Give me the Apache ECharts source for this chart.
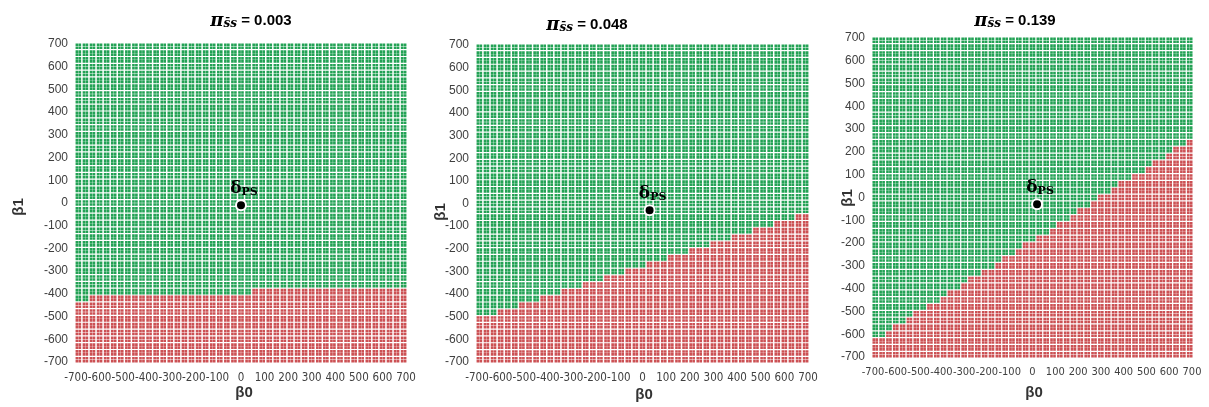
<!DOCTYPE html>
<html>
<head>
<meta charset="utf-8">
<script src="https://cdn.jsdelivr.net/npm/echarts@6/dist/echarts.min.js"></script>
<style>
html,body{margin:0;padding:0;background:#fff;}
#c{width:1209px;height:407px;}
</style>
</head>
<body>
<div id="c"></div>
<script>
// ---- data ----
const titles = ['0.003', '0.048', '0.139'];
const tickValues = [-700,-600,-500,-400,-300,-200,-100,0,100,200,300,400,500,600,700];
// grid of evaluated (beta0, beta1) points
const latticeB0 = [-690,-660,-630,-600,-570,-540,-510,-480,-450,-420,-390,-360,-330,-300,-270,-240,-210,-180,-150,-120,-90,-60,-30,0,30,60,90,120,150,180,210,240,270,300,330,360,390,420,450,480,510,540,570,600,630,660,690];
const latticeB1 = [-690,-660,-630,-600,-570,-540,-510,-480,-450,-420,-390,-360,-330,-300,-270,-240,-210,-180,-150,-120,-90,-60,-30,0,30,60,90,120,150,180,210,240,270,300,330,360,390,420,450,480,510,540,570,600,630,660,690];
// boundary between green (above) and red (below): [beta0, beta1] breakpoints
const boundary1 = [[-700,-425],[-646,-425],[-644,-400],[44,-400],[46,-375],[700,-375]];
const boundary2 = [[-700,-510],[0,-275],[700,-45]];
const boundary3 = [[-700,-625],[0,-190],[700,262]];
// delta_PS point of each panel
const delta1 = [0,-10];
const delta2 = [30,-30];
const delta3 = [20,-30];

const boundaries = [boundary1, boundary2, boundary3];
const deltas = [delta1, delta2, delta3];

function thr(bp, x){
  for (let i=0;i<bp.length-1;i++){
    const a=bp[i], b=bp[i+1];
    if (x>=a[0] && x<=b[0]) return a[1] + (b[1]-a[1])*(x-a[0])/(b[0]-a[0]);
  }
  return bp[bp.length-1][1];
}

const grids = [
  {left:76, top:44, width:330, height:318},
  {left:477, top:45, width:331, height:317},
  {left:873, top:38, width:319, height:319}
];
const titlePos = [{x:246,y:7},{x:582,y:11},{x:1010,y:7}];
const yNamePos = [[19,207],[441,212],[848,198]];
const xNamePos = [[244,393],[644,395],[1034,393]];
const xLabelSize = [11.5, 11.5, 11];

const GREEN = '#23a255';
const RED = '#cc5154';
const sym = 'path://M0,0H47V47H0Z M53,0H100V47H53Z M0,53H47V100H0Z M53,53H100V100H53Z';

const series = [];
const xAxis = [], yAxis = [], title = [], graphic = [];
for (let p=0;p<3;p++){
  const g=[], r=[];
  latticeB0.forEach(b0=>{
    const t = thr(boundaries[p], b0);
    latticeB1.forEach(b1=>{ (b1>t?g:r).push([b0,b1]); });
  });
  series.push({type:'scatter', xAxisIndex:p, yAxisIndex:p, data:g, symbol:sym, symbolSize:5.6,
    itemStyle:{color:GREEN, opacity:1}, silent:true, animation:false});
  series.push({type:'scatter', xAxisIndex:p, yAxisIndex:p, data:r, symbol:sym, symbolSize:5.6,
    itemStyle:{color:RED, opacity:1}, silent:true, animation:false});
  series.push({type:'scatter', xAxisIndex:p, yAxisIndex:p, data:[deltas[p]], symbol:'circle', symbolSize:10,
    itemStyle:{color:'#000', borderColor:'#fff', borderWidth:2, opacity:1}, z:5, animation:false,
    label:{show:true, position:'top', distance:2, offset:[3,0],
      formatter:'{d|δ}{s|PS}',
      rich:{d:{fontFamily:'DejaVu Serif', fontWeight:'bold', fontSize:17, color:'#000'},
            s:{fontFamily:'DejaVu Serif', fontWeight:'bold', fontSize:11, color:'#000', padding:[7,0,0,0]}}}});
  xAxis.push({type:'value', gridIndex:p, min:-700, max:700, interval:100,
    axisLine:{show:false}, axisTick:{show:false}, splitLine:{show:false},
    axisLabel:{color:'#404040', fontSize:xLabelSize[p], fontFamily:'Liberation Sans Narrow, DejaVu Sans Condensed, sans-serif', margin:10, hideOverlap:false, showMinLabel:true, showMaxLabel:true}});
  yAxis.push({type:'value', gridIndex:p, min:-700, max:700, interval:100,
    axisLine:{show:false}, axisTick:{show:false}, splitLine:{show:false},
    axisLabel:{color:'#404040', fontSize:12, fontFamily:'Liberation Sans, sans-serif', margin:8}});
  title.push({text:'{p|π}{s|s̄s}{t| = '+titles[p]+'}', left:titlePos[p].x, top:titlePos[p].y, textAlign:'center',
    textStyle:{rich:{
      p:{fontFamily:'DejaVu Serif', fontStyle:'italic', fontWeight:'bold', fontSize:18, color:'#000'},
      s:{fontFamily:'DejaVu Serif', fontStyle:'italic', fontSize:12, color:'#000', padding:[6,0,0,0]},
      t:{fontFamily:'Liberation Sans, sans-serif', fontWeight:'bold', fontSize:15, color:'#000'}}}});
  graphic.push({type:'text', x:yNamePos[p][0], y:yNamePos[p][1], rotation:Math.PI/2,
    style:{text:'β1', font:'bold 15px "Liberation Sans", sans-serif', fill:'#333', textAlign:'center', textVerticalAlign:'middle'}});
  graphic.push({type:'text', x:xNamePos[p][0], y:xNamePos[p][1],
    style:{text:'β0', font:'bold 15px "Liberation Sans", sans-serif', fill:'#333', textAlign:'center', textVerticalAlign:'middle'}});
}

const chart = echarts.init(document.getElementById('c'), null, {renderer:'canvas'});
chart.setOption({backgroundColor:'#fff', animation:false, title, grid:grids, xAxis, yAxis, series, graphic});
</script>
</body>
</html>
